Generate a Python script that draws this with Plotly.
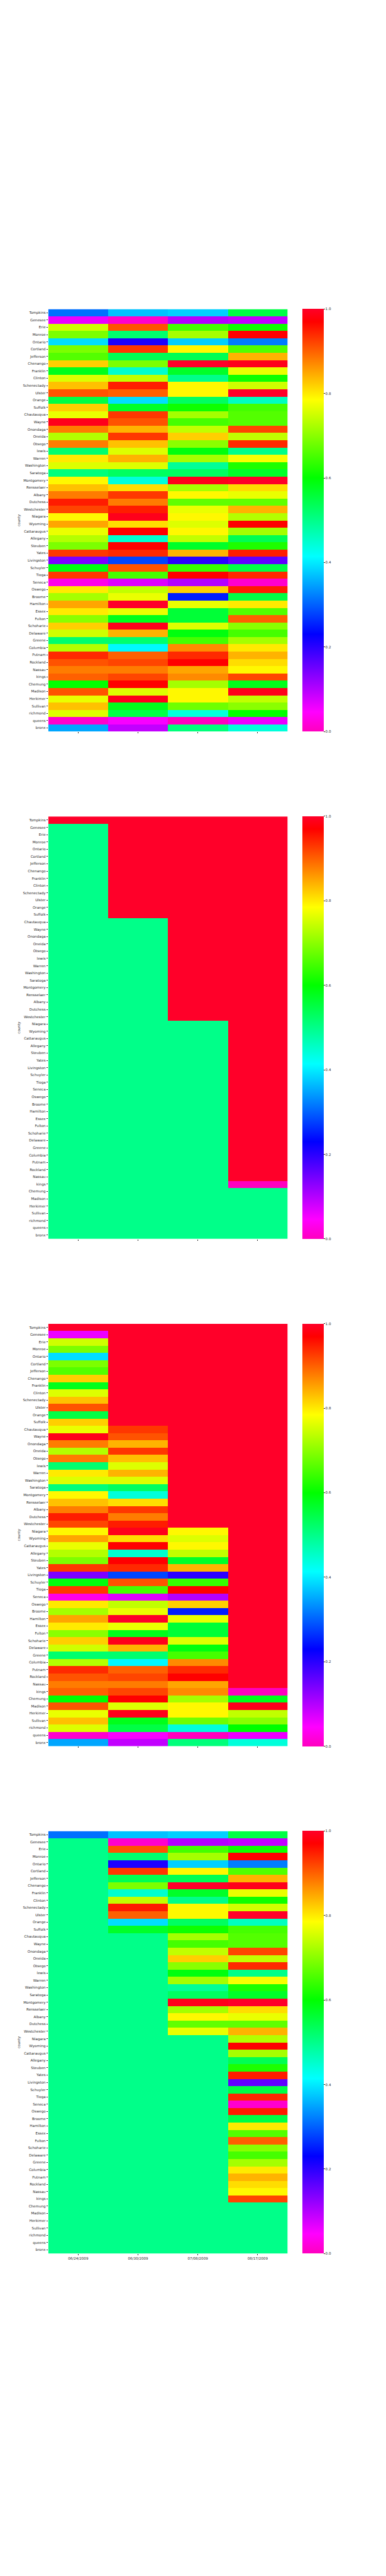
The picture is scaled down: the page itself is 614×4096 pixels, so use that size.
import plotly.graph_objects as go

counties = ["Tompkins", "Genesee", "Erie", "Monroe", "Ontario", "Cortland", "Jefferson", "Chenango",
            "Franklin", "Clinton", "Schenectady", "Ulster", "Orange", "Suffolk", "Chautauqua", "Wayne",
            "Onondaga", "Oneida", "Otsego", "lewis", "Warren", "Washington", "Saratoga", "Montgomery",
            "Rensselaer", "Albany", "Dutchess", "Westchester", "Niagara", "Wyoming", "Cattaraugus",
            "Allegany", "Steuben", "Yates", "Livingston", "Schuyler", "Tioga", "Seneca", "Oswego",
            "Broome", "Hamilton", "Essex", "Fulton", "Schoharie", "Delaware", "Greene", "Columbia",
            "Putnam", "Rockland", "Nassau", "kings", "Chemung", "Madison", "Herkimer", "Sullivan",
            "richmond", "queens", "bronx"]
dates = ["06/24/2009", "06/30/2009", "07/08/2009", "08/17/2009"]

# ---- panel 1 ----
p1_c1 = [0.31, 0.06, 0.75, 0.69, 0.39, 0.69, 0.66, 0.82, 0.58, 0.76,
         0.83, 0.91, 0.55, 0.82, 0.77, 0.99, 0.88, 0.73, 0.88, 0.52,
         0.80, 0.76, 0.51, 0.79, 0.83, 0.88, 0.95, 0.92, 0.79, 0.85,
         0.77, 0.73, 0.69, 0.93, 0.14, 0.59, 0.93, 0.03, 0.80, 0.72,
         0.85, 0.80, 0.70, 0.82, 0.75, 0.52, 0.73, 0.94, 0.91, 0.88,
         0.90, 0.60, 0.91, 0.77, 0.83, 0.76, 0.01, 0.35]
p1_c2 = [0.37, 0.01, 0.91, 0.52, 0.21, 0.93, 0.54, 0.69, 0.45, 0.74,
         0.95, 0.90, 0.39, 0.57, 0.93, 0.91, 0.84, 0.93, 0.83, 0.76,
         0.84, 0.76, 0.53, 0.44, 0.81, 0.93, 0.88, 0.95, 0.99, 0.81,
         0.97, 0.45, 0.97, 0.94, 0.28, 0.91, 0.65, 0.07, 0.74, 0.77,
         1.00, 0.77, 0.58, 0.99, 0.84, 0.52, 0.41, 0.90, 0.92, 0.88,
         0.92, 0.97, 0.76, 0.99, 0.58, 0.55, 0.05, 0.09]
p1_c3 = [0.38, 0.10, 0.65, 0.72, 0.38, 0.79, 0.54, 1.00, 0.57, 0.50,
         0.79, 0.79, 0.53, 0.61, 0.72, 0.65, 0.74, 0.82, 0.70, 0.59,
         0.72, 0.49, 0.53, 0.99, 0.72, 0.79, 0.67, 0.77, 0.79, 0.76,
         0.79, 0.74, 0.57, 0.84, 0.20, 0.64, 0.97, 0.10, 0.82, 0.25,
         0.77, 0.56, 0.56, 0.76, 0.59, 0.65, 0.87, 0.94, 0.97, 0.85,
         0.87, 0.72, 0.79, 0.79, 0.68, 0.44, 0.00, 0.51]
p1_c4 = [0.55, 0.09, 0.61, 0.97, 0.32, 0.66, 0.84, 0.99, 0.77, 0.61,
         0.75, 1.00, 0.46, 0.65, 0.66, 0.66, 0.92, 0.74, 0.94, 0.50,
         0.78, 0.62, 0.57, 1.00, 0.81, 0.77, 0.67, 0.84, 0.73, 0.97,
         0.72, 0.54, 0.62, 0.95, 0.16, 0.55, 0.94, 0.01, 0.95, 0.55,
         0.80, 0.66, 0.90, 0.70, 0.65, 0.72, 0.80, 0.84, 0.81, 0.79,
         0.92, 0.58, 0.99, 0.74, 0.70, 0.60, 0.06, 0.44]

# ---- panel 2 ----
p2_c1 = [1.0] * 1 + [0.5] * 57
p2_c2 = [1.0] * 14 + [0.5] * 44
p2_c3 = [1.0] * 28 + [0.5] * 30
p2_c4 = [1.0] * 50 + [0.0] + [0.5] * 7

# ---- panel 3 ----
p3_c1 = [1.00, 0.06, 0.75, 0.69, 0.39, 0.69, 0.66, 0.82, 0.58, 0.76,
         0.83, 0.91, 0.55, 0.82, 0.77, 0.99, 0.88, 0.73, 0.88, 0.52,
         0.80, 0.76, 0.51, 0.79, 0.83, 0.88, 0.95, 0.92, 0.79, 0.85,
         0.77, 0.73, 0.69, 0.93, 0.14, 0.59, 0.93, 0.03, 0.80, 0.72,
         0.85, 0.80, 0.70, 0.82, 0.75, 0.52, 0.73, 0.94, 0.91, 0.88,
         0.90, 0.60, 0.91, 0.77, 0.83, 0.76, 0.01, 0.35]
p3_c2 = [1.00] * 14 + [
         0.93, 0.91, 0.84, 0.93, 0.83, 0.76,
         0.84, 0.76, 0.53, 0.44, 0.81, 0.93, 0.88, 0.95, 0.99, 0.81,
         0.97, 0.45, 0.97, 0.94, 0.28, 0.91, 0.65, 0.07, 0.74, 0.77,
         1.00, 0.77, 0.58, 0.99, 0.84, 0.52, 0.41, 0.90, 0.92, 0.88,
         0.92, 0.97, 0.76, 0.99, 0.58, 0.55, 0.05, 0.09]
p3_c3 = [1.00] * 28 + [
         0.79, 0.76,
         0.79, 0.74, 0.57, 0.84, 0.20, 0.64, 0.97, 0.10, 0.82, 0.25,
         0.77, 0.56, 0.56, 0.76, 0.59, 0.65, 0.87, 0.94, 0.97, 0.85,
         0.87, 0.72, 0.79, 0.79, 0.68, 0.44, 0.00, 0.51]
p3_c4 = [1.00] * 50 + [0.00, 0.58, 0.99, 0.74, 0.70, 0.60, 0.06, 0.44]

# ---- panel 4 ----
p4_c1 = [0.31] + [0.50] * 57
p4_c2 = [0.37, 0.01, 0.91, 0.52, 0.21, 0.93, 0.54, 0.69, 0.45, 0.74,
         0.95, 0.90, 0.39, 0.57] + [0.50] * 44
p4_c3 = [0.38, 0.10, 0.65, 0.72, 0.38, 0.79, 0.54, 1.00, 0.57, 0.50,
         0.79, 0.79, 0.53, 0.61, 0.72, 0.65, 0.74, 0.82, 0.70, 0.59,
         0.72, 0.49, 0.53, 0.99, 0.72, 0.79, 0.67, 0.77] + [0.50] * 30
p4_c4 = [0.55, 0.09, 0.61, 0.97, 0.32, 0.66, 0.84, 0.99, 0.77, 0.61,
         0.75, 1.00, 0.46, 0.65, 0.66, 0.66, 0.92, 0.74, 0.94, 0.50,
         0.78, 0.62, 0.57, 1.00, 0.81, 0.77, 0.67, 0.84, 0.73, 0.97,
         0.72, 0.54, 0.62, 0.95, 0.16, 0.55, 0.94, 0.01, 0.95, 0.55,
         0.80, 0.66, 0.90, 0.70, 0.65, 0.72, 0.80, 0.84, 0.81, 0.79,
         0.92] + [0.50] * 7

panels = [
    [p1_c1, p1_c2, p1_c3, p1_c4],
    [p2_c1, p2_c2, p2_c3, p2_c4],
    [p3_c1, p3_c2, p3_c3, p3_c4],
    [p4_c1, p4_c2, p4_c3, p4_c4],
]

# gist_rainbow_r
colorscale = [
    [0.0, "rgb(255,0,191)"],
    [0.046, "rgb(255,0,255)"],
    [0.23, "rgb(0,0,255)"],
    [0.414, "rgb(0,255,255)"],
    [0.6, "rgb(0,255,0)"],
    [0.785, "rgb(255,255,0)"],
    [0.97, "rgb(255,0,0)"],
    [1.0, "rgb(255,0,41)"],
]

W, H = 614, 4096
FW, FH = 1080.0, 7200.0
S = W / FW
FONT = "DejaVu Sans"
TXT = "#262626"
FS = 5.6

x0, x1 = 135 / FW, 804.6 / FW
tops = [864, 2282, 3700, 5118]
ph = 1180.5
cb_x = 846.5 / FW

fig = go.Figure()
layout = dict(
    template="none",
    width=W, height=H, autosize=False,
    margin=dict(l=0, r=0, t=0, b=0, pad=0),
    paper_bgcolor="white", plot_bgcolor="white",
    font=dict(family=FONT, size=FS, color=TXT),
    showlegend=False,
)
annotations = []

for k, cols in enumerate(panels):
    n = k + 1
    z = [list(r) for r in zip(*cols)]
    ylo = 1 - (tops[k] + ph) / FH
    yhi = 1 - tops[k] / FH
    fig.add_trace(go.Heatmap(
        z=z, x=dates, y=counties,
        xaxis="x" if n == 1 else f"x{n}",
        yaxis="y" if n == 1 else f"y{n}",
        colorscale=colorscale, zmin=0, zmax=1,
        colorbar=dict(
            x=cb_x, xanchor="left", xpad=0, xref="paper",
            y=(ylo + yhi) / 2, yanchor="middle", ypad=0, yref="paper",
            len=ph / FH, lenmode="fraction",
            thickness=59 * S, thicknessmode="pixels",
            outlinewidth=0,
            tickmode="array",
            tickvals=[0, 0.2, 0.4, 0.6, 0.8, 1.0],
            ticktext=["0.0", "0.2", "0.4", "0.6", "0.8", "1.0"],
            ticks="outside", ticklen=2, tickwidth=0.6, tickcolor=TXT,
            tickfont=dict(family=FONT, size=FS, color=TXT),
        ),
    ))
    xname = "xaxis" if n == 1 else f"xaxis{n}"
    yname = "yaxis" if n == 1 else f"yaxis{n}"
    layout[xname] = dict(
        domain=[x0, x1], anchor="y" if n == 1 else f"y{n}",
        type="category", showgrid=False, zeroline=False, showline=False,
        automargin=False,
        ticks="outside", ticklen=2, tickwidth=0.6, tickcolor=TXT,
        showticklabels=(n == 4),
        tickfont=dict(family=FONT, size=FS, color=TXT),
    )
    layout[yname] = dict(
        domain=[ylo, yhi], anchor="x" if n == 1 else f"x{n}",
        type="category", autorange="reversed",
        showgrid=False, zeroline=False, showline=False,
        automargin=False,
        tickmode="array", tickvals=counties, ticktext=counties,
        ticks="outside", ticklen=2, tickwidth=0.6, tickcolor=TXT,
        tickfont=dict(family=FONT, size=FS, color=TXT),
    )
    annotations.append(dict(
        text="county", x=54 / FW, y=(ylo + yhi) / 2,
        xref="paper", yref="paper", xanchor="center", yanchor="middle",
        textangle=-90, showarrow=False,
        font=dict(family=FONT, size=FS, color=TXT),
    ))

layout["annotations"] = annotations
fig.update_layout(**layout)
fig.write_html(
    "out.html",
    config={"displayModeBar": False},
    post_script="document.body.style.margin='0px';document.body.style.padding='0px';",
)
